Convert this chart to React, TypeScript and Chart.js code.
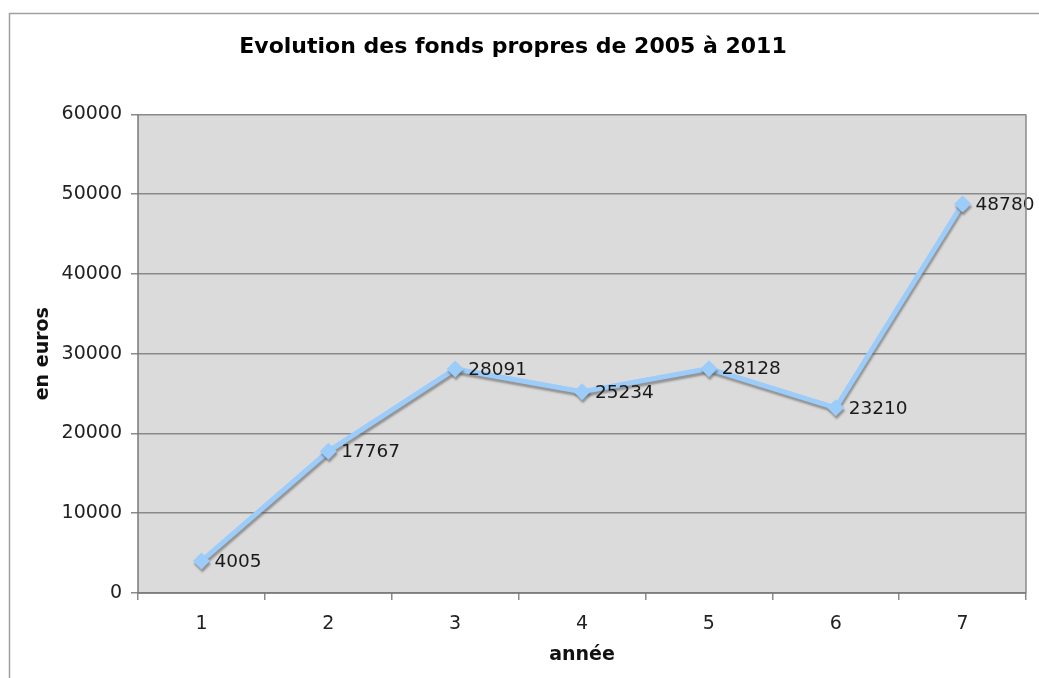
import React, { useEffect, useRef } from "react";
import { Chart, registerables } from "chart.js";

Chart.register(...registerables);

const categories = ["1", "2", "3", "4", "5", "6", "7"];
const fondsPropres = [4005, 17767, 28091, 25234, 28128, 23210, 48780];
const chartTitle = "Evolution des fonds propres de 2005 à 2011";
const xTitle = "année";
const yTitle = "en euros";

const FONT = "'DejaVu Sans', Verdana, sans-serif";

const framePlugin = {
  id: "frame",
  beforeDraw(chart: any) {
    const { ctx, chartArea } = chart;
    ctx.save();
    ctx.fillStyle = "#ffffff";
    ctx.fillRect(0, 0, chart.width, chart.height);
    ctx.fillStyle = "#dbdbdb";
    ctx.fillRect(chartArea.left, chartArea.top, chartArea.right - chartArea.left, chartArea.bottom - chartArea.top);
    ctx.strokeStyle = "#a0a0a0";
    ctx.lineWidth = 1.5;
    ctx.beginPath();
    ctx.moveTo(9.5, chart.height);
    ctx.lineTo(9.5, 13.5);
    ctx.lineTo(chart.width, 13.5);
    ctx.stroke();
    ctx.restore();
  },
  afterDraw(chart: any) {
    const { ctx, chartArea } = chart;
    ctx.save();
    ctx.strokeStyle = "#8a8a8a";
    ctx.lineWidth = 1.5;
    ctx.beginPath();
    ctx.moveTo(chartArea.right, chartArea.top);
    ctx.lineTo(chartArea.right, chartArea.bottom);
    ctx.stroke();
    ctx.strokeStyle = "#7a7a7a";
    ctx.beginPath();
    ctx.moveTo(chartArea.left, chartArea.top);
    ctx.lineTo(chartArea.left, chartArea.bottom);
    ctx.lineTo(chartArea.right, chartArea.bottom);
    ctx.stroke();
    ctx.restore();
  },
};

const shadowPlugin = {
  id: "lineShadow",
  beforeDatasetsDraw(chart: any) {
    const ctx = chart.ctx;
    ctx.save();
    ctx.shadowColor = "rgba(90,90,90,0.55)";
    ctx.shadowOffsetX = 1;
    ctx.shadowOffsetY = 3;
    ctx.shadowBlur = 2;
  },
  afterDatasetsDraw(chart: any) {
    chart.ctx.restore();
  },
};

const labelPlugin = {
  id: "pointLabels",
  afterDatasetsDraw(chart: any) {
    const ctx = chart.ctx;
    const meta = chart.getDatasetMeta(0);
    const data = chart.data.datasets[0].data;
    ctx.save();
    ctx.font = `18.5px ${FONT}`;
    ctx.fillStyle = "#1a1a1a";
    ctx.textAlign = "left";
    ctx.textBaseline = "middle";
    meta.data.forEach((pt: any, i: number) => {
      ctx.fillText(String(data[i]), pt.x + 13, pt.y + 1);
    });
    ctx.restore();
  },
};

export default function App() {
  const ref = useRef<HTMLCanvasElement | null>(null);
  useEffect(() => {
    if (!ref.current) return;
    const chart = new Chart(ref.current, {
      type: "line",
      data: {
        labels: categories,
        datasets: [
          {
            data: fondsPropres,
            borderColor: "#9cccfa",
            backgroundColor: "#9cccfa",
            borderWidth: 5,
            pointStyle: "rectRot",
            pointRadius: 8.5,
            pointBorderWidth: 0,
            tension: 0,
          },
        ],
      },
      options: {
        animation: false,
        responsive: false,
        maintainAspectRatio: false,
        layout: { padding: { left: 0, right: 13, top: 0, bottom: 0 } },
        plugins: {
          legend: { display: false },
          tooltip: { enabled: false },
          title: {
            display: true,
            text: chartTitle,
            color: "#000",
            font: { family: FONT, size: 22, weight: "bold" },
            padding: { top: 34, bottom: 54 },
          },
        },
        scales: {
          x: {
            offset: true,
            afterFit(scale: any) {
              scale.height = 85;
            },
            grid: {
              offset: true,
              drawOnChartArea: false,
              drawTicks: true,
              tickLength: 7,
              color: "#8a8a8a",
              lineWidth: 1.5,
            },
            border: { display: false },
            ticks: {
              color: "#222",
              font: { family: FONT, size: 19 },
              padding: 13,
            },
            title: {
              display: true,
              text: xTitle,
              color: "#111",
              font: { family: FONT, size: 19, weight: "bold" },
              padding: { top: 0, bottom: 12 },
            },
          },
          y: {
            min: 0,
            max: 60000,
            afterFit(scale: any) {
              scale.width = 138;
            },
            grid: {
              color: "#8a8a8a",
              lineWidth: 1.5,
              tickLength: 7,
            },
            border: { display: false },
            ticks: {
              stepSize: 10000,
              color: "#222",
              font: { family: FONT, size: 19 },
              padding: 9,
              callback: (v: any) => String(v),
            },
            title: {
              display: true,
              text: yTitle,
              color: "#111",
              font: { family: FONT, size: 19, weight: "bold" },
              padding: { top: 32, bottom: 0 },
            },
          },
        },
      },
      plugins: [framePlugin, shadowPlugin, labelPlugin],
    });
    return () => chart.destroy();
  }, []);
  return (
    <div style={{ position: "fixed", left: 0, top: 0, width: 1039, height: 678 }}>
      <canvas ref={ref} width={1039} height={678} style={{ width: 1039, height: 678, display: "block" }} />
    </div>
  );
}
